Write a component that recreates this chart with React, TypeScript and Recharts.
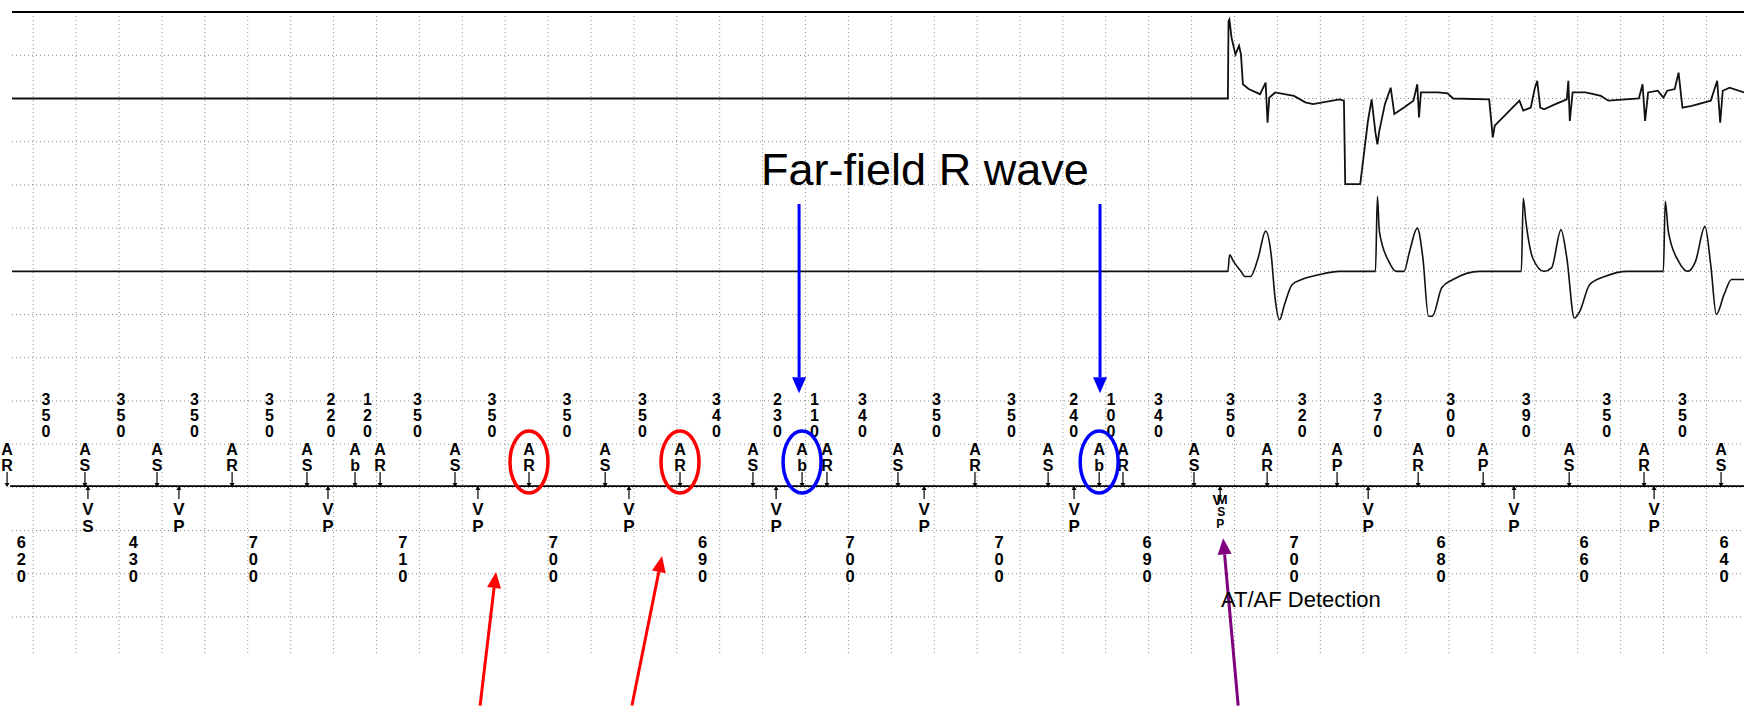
import { ComposedChart, Line, Scatter, XAxis, YAxis, ReferenceLine, ReferenceDot } from 'recharts'

// x: time in ms (one big grid box = 200 ms), y: big grid boxes counted downwards from the top border
const X_DOMAIN: [number, number] = [-155, 7975]
const Y_DOMAIN: [number, number] = [-0.28, 16.06]
const FONT = '"Liberation Sans", Arial, Helvetica, sans-serif'

const gridTimes = Array.from({ length: 40 }, (_, i) => i * 200)
const gridRows = Array.from({ length: 14 }, (_, i) => i + 1)

const egm1Base = 2
const egm2Base = 6
const markerBase = 10.97

// [time ms, amplitude in boxes]
const egm1: [number, number][] = [
    [-99, 0], [5569, 0], [5572, 1.79], [5576, 1.83], [5586, 1.41], [5604, 1.02], [5621, 1.22], [5630, 1.02],
    [5639, 0.33], [5666, 0.22], [5719, 0.1], [5745, 0.37], [5754, -0.56], [5762, 0.02], [5789, 0.14], [5877, 0.06],
    [5930, -0.09], [5966, -0.13], [6089, -0.02], [6110, -0.05], [6116, -1.98], [6186, -1.98], [6222, -0.52],
    [6239, -0.02], [6257, -0.79], [6266, -1.06], [6275, -0.75], [6301, -0.13], [6328, 0.25], [6345, -0.36],
    [6390, -0.21], [6434, -0.05], [6452, 0.33], [6460, -0.44], [6469, 0.14], [6549, 0.14], [6593, 0.12], [6619, 0],
    [6787, -0.02], [6804, -0.9], [6813, -0.63], [6866, -0.36], [6928, -0.05], [6946, -0.28], [6981, -0.21],
    [6999, 0.22], [7011, 0.41], [7025, -0.21], [7043, -0.25], [7096, -0.13], [7149, -0.02], [7156, 0.41],
    [7163, -0.52], [7176, 0.14], [7237, 0.14], [7308, 0.06], [7343, -0.05], [7485, 0], [7502, 0.33], [7514, -0.52],
    [7528, 0.14], [7573, 0.18], [7599, 0.02], [7617, 0.18], [7652, 0.22], [7670, 0.6], [7688, -0.21], [7732, -0.17],
    [7820, -0.05], [7850, 0.41], [7864, -0.56], [7876, 0.18], [7908, 0.25], [7975, 0.14],
]

const egm2: [number, number][] = [
    [-99, 0], [5569, 0], [5577, 0.38], [5595, 0.23], [5630, 0], [5648, -0.12], [5674, -0.12], [5710, 0.31],
    [5745, 0.93], [5771, 0.38], [5789, -0.62], [5810, -1.12], [5833, -0.77], [5868, -0.31], [5913, -0.19],
    [5992, -0.08], [6089, 0], [6257, 0], [6266, 1.73], [6275, 0.93], [6319, 0.23], [6354, 0], [6390, 0],
    [6416, 0.46], [6452, 1.0], [6478, 0.31], [6504, -1.04], [6522, -1.04], [6566, -0.38], [6619, -0.19],
    [6743, 0], [6937, 0], [6946, 1.69], [6958, 1.16], [6990, 0.31], [7043, 0], [7078, 0.08], [7122, 0.96],
    [7149, 0.31], [7184, -1.08], [7210, -0.92], [7255, -0.31], [7326, -0.12], [7431, 0], [7599, 0], [7608, 1.62],
    [7622, 0.93], [7670, 0.23], [7714, 0], [7749, 0.23], [7793, 1.04], [7820, 0.15], [7846, -1.0], [7882, -0.54],
    [7917, -0.19], [7975, -0.19],
]

// marker channel
const atrialTimes = [-122, 241, 577, 927, 1276, 1500, 1617, 1966, 2311, 2666, 3015, 3355, 3584, 3700, 4031, 4390,
    4731, 4969, 5080, 5411, 5752, 6078, 6456, 6759, 7160, 7509, 7868]
const atrialCodes = ['AR', 'AS', 'AS', 'AR', 'AS', 'Ab', 'AR', 'AS', 'AR', 'AS', 'AR', 'AS', 'Ab', 'AR', 'AS', 'AR',
    'AS', 'Ab', 'AR', 'AS', 'AR', 'AP', 'AR', 'AP', 'AS', 'AR', 'AS']
const aaIntervals = [350, 350, 350, 350, 220, 120, 350, 350, 350, 350, 340, 230, 110, 340, 350, 350, 240, 100, 340,
    350, 320, 370, 300, 390, 350, 350]

const ventricularTimes = [-365, 255, 679, 1374, 2073, 2777, 3463, 4153, 4852, 5533, 6223, 6903, 7556, 8208]
const ventricularCodes = ['VS', 'VS', 'VP', 'VP', 'VP', 'VP', 'VP', 'VP', 'VP', 'VP', 'VP', 'VP', 'VP', 'VP']
const vvIntervals = [620, 430, 700, 710, 700, 690, 700, 700, 690, 700, 680, 660, 640]
const modeSwitchTimes = [5533]

// annotations
const circled = [
    { t: 2311, color: '#ff0000' },
    { t: 3015, color: '#ff0000' },
    { t: 3584, color: '#0000ff' },
    { t: 4969, color: '#0000ff' },
]
const arrows = [
    { color: '#0000ff', from: [3570, 4.44], to: [3570, 8.82] },
    { color: '#0000ff', from: [4973, 4.44], to: [4973, 8.82] },
    { color: '#ff0000', from: [2083, 16.05], to: [2157, 12.96] },
    { color: '#ff0000', from: [2791, 16.05], to: [2931, 12.59] },
    { color: '#800080', from: [5617, 16.05], to: [5547, 12.18] },
]
const notes = [
    { t: 3393, y: 4.0, text: 'Far-field R wave', size: 45 },
    { t: 5537, y: 13.77, text: 'AT/AF Detection', size: 22 },
]

const inDomain = (t: number) => t >= X_DOMAIN[0] && t <= X_DOMAIN[1]
const toRows = (pts: [number, number][], base: number) => pts.map(([t, a]) => ({ t, y: base - a }))

const atrialData = atrialTimes.map((t, i) => ({ t, y: markerBase, code: atrialCodes[i] })).filter((d) => inDomain(d.t))
const ventricularData = ventricularTimes
    .map((t, i) => ({ t, y: markerBase, code: ventricularCodes[i], ms: modeSwitchTimes.includes(t) }))
    .filter((d) => inDomain(d.t))
const aaData = aaIntervals.map((v, i) => ({ t: (atrialTimes[i] + atrialTimes[i + 1]) / 2, y: markerBase, text: String(v) }))
const vvData = vvIntervals.map((v, i) => ({ t: (ventricularTimes[i] + ventricularTimes[i + 1]) / 2, y: markerBase, text: String(v) }))

// one <text> per vertical stack of characters
function Stack({ chars, x, y, step, size }: { chars: string; x: number; y: number; step: number; size: number }) {
    return (
        <text textAnchor="middle" fontSize={size} fontWeight={700} fontFamily={FONT} fill="#000">
            {chars.split('').map((c, i) => (
                <tspan key={i} x={x} y={y + i * step}>{c}</tspan>
            ))}
        </text>
    )
}

const AtrialMark = (p: any) => (
    <g>
        <line x1={p.cx} y1={p.cy - 14} x2={p.cx} y2={p.cy} stroke="#000" strokeWidth={1.2} />
        <path d={`M${p.cx - 2.5},${p.cy - 3} L${p.cx + 2.5},${p.cy - 3} L${p.cx},${p.cy + 1} Z`} fill="#000" />
        <Stack chars={p.payload.code} x={p.cx} y={p.cy - 31} step={16} size={16} />
    </g>
)

const VentricularMark = (p: any) => (
    <g>
        <line x1={p.cx} y1={p.cy} x2={p.cx} y2={p.cy + 13} stroke="#000" strokeWidth={1.2} />
        <path d={`M${p.cx - 2.5},${p.cy + 4} L${p.cx + 2.5},${p.cy + 4} L${p.cx},${p.cy} Z`} fill="#000" />
        {p.payload.ms ? (
            // mode switch "MS" printed over the "VP" marker
            <text textAnchor="middle" fontWeight={700} fontFamily={FONT} fill="#000">
                <tspan x={p.cx - 3} y={p.cy + 19} fontSize={14}>V</tspan>
                <tspan x={p.cx + 2} y={p.cy + 18} fontSize={13}>M</tspan>
                <tspan x={p.cx + 1} y={p.cy + 30} fontSize={12}>S</tspan>
                <tspan x={p.cx} y={p.cy + 42} fontSize={12}>P</tspan>
            </text>
        ) : (
            <Stack chars={p.payload.code} x={p.cx} y={p.cy + 29} step={17} size={17} />
        )}
    </g>
)

const AaLabel = (p: any) => <Stack chars={p.payload.text} x={p.cx} y={p.cy - 81} step={16} size={16} />
const VvLabel = (p: any) => <Stack chars={p.payload.text} x={p.cx} y={p.cy + 62} step={17} size={16.5} />

const arrowShape = (color: string) => (p: any) => {
    const { x1, y1, x2, y2 } = p
    const ang = Math.atan2(y2 - y1, x2 - x1)
    const len = 16
    const half = 7
    const bx = x2 - len * Math.cos(ang)
    const by = y2 - len * Math.sin(ang)
    const px = -Math.sin(ang) * half
    const py = Math.cos(ang) * half
    return (
        <g>
            <line x1={x1} y1={y1} x2={bx} y2={by} stroke={color} strokeWidth={3} />
            <polygon points={`${x2},${y2} ${bx + px},${by + py} ${bx - px},${by - py}`} fill={color} />
        </g>
    )
}

export default function App() {
    return (
        <div style={{ position: 'absolute', left: 0, top: 0, width: 1744, height: 706, background: '#fff' }}>
            <ComposedChart width={1744} height={706} margin={{ top: 0, right: 0, bottom: 0, left: 0 }}>
                <XAxis type="number" dataKey="t" domain={X_DOMAIN} allowDataOverflow hide />
                <YAxis type="number" dataKey="y" domain={Y_DOMAIN} reversed allowDataOverflow hide />

                {gridTimes.map((t) => (
                    <ReferenceLine key={'gv' + t} segment={[{ x: t, y: 0 }, { x: t, y: 14.9 }]}
                        stroke="#8a8a8a" strokeDasharray="1 3" ifOverflow="visible" />
                ))}
                {gridRows.map((r) => (
                    <ReferenceLine key={'gh' + r} segment={[{ x: -99, y: r }, { x: X_DOMAIN[1], y: r }]}
                        stroke="#8a8a8a" strokeDasharray="1 3" ifOverflow="visible" />
                ))}
                <ReferenceLine segment={[{ x: -99, y: 0 }, { x: X_DOMAIN[1], y: 0 }]} stroke="#000" strokeWidth={2}
                    ifOverflow="visible" />

                <Line data={toRows(egm1, egm1Base)} dataKey="y" type="linear" dot={false} stroke="#111"
                    strokeWidth={1.8} isAnimationActive={false} />
                <Line data={toRows(egm2, egm2Base)} dataKey="y" type="monotoneX" dot={false} stroke="#111"
                    strokeWidth={1.6} isAnimationActive={false} />
                <Line data={[{ t: -108, y: markerBase }, { t: X_DOMAIN[1], y: markerBase }]} dataKey="y"
                    type="linear" dot={false} stroke="#000" strokeWidth={1.6} isAnimationActive={false} />

                <Scatter data={atrialData} dataKey="y" shape={AtrialMark} isAnimationActive={false} />
                <Scatter data={ventricularData} dataKey="y" shape={VentricularMark} isAnimationActive={false} />
                <Scatter data={aaData} dataKey="y" shape={AaLabel} isAnimationActive={false} />
                <Scatter data={vvData} dataKey="y" shape={VvLabel} isAnimationActive={false} />

                {circled.map((c) => (
                    <ReferenceDot key={'c' + c.t} x={c.t} y={markerBase} ifOverflow="visible"
                        shape={(p: any) => (
                            <ellipse cx={p.cx} cy={p.cy - 24} rx={19} ry={31} fill="none" stroke={c.color}
                                strokeWidth={3.5} />
                        )} />
                ))}
                {arrows.map((a, i) => (
                    <ReferenceLine key={'ar' + i} segment={[{ x: a.from[0], y: a.from[1] }, { x: a.to[0], y: a.to[1] }]}
                        ifOverflow="visible" shape={arrowShape(a.color)} />
                ))}
                {notes.map((n) => (
                    <ReferenceDot key={n.text} x={n.t} y={n.y} ifOverflow="visible"
                        shape={(p: any) => (
                            <text x={p.cx} y={p.cy} fontSize={n.size} fontFamily={FONT} fill="#000">{n.text}</text>
                        )} />
                ))}
            </ComposedChart>
        </div>
    )
}
